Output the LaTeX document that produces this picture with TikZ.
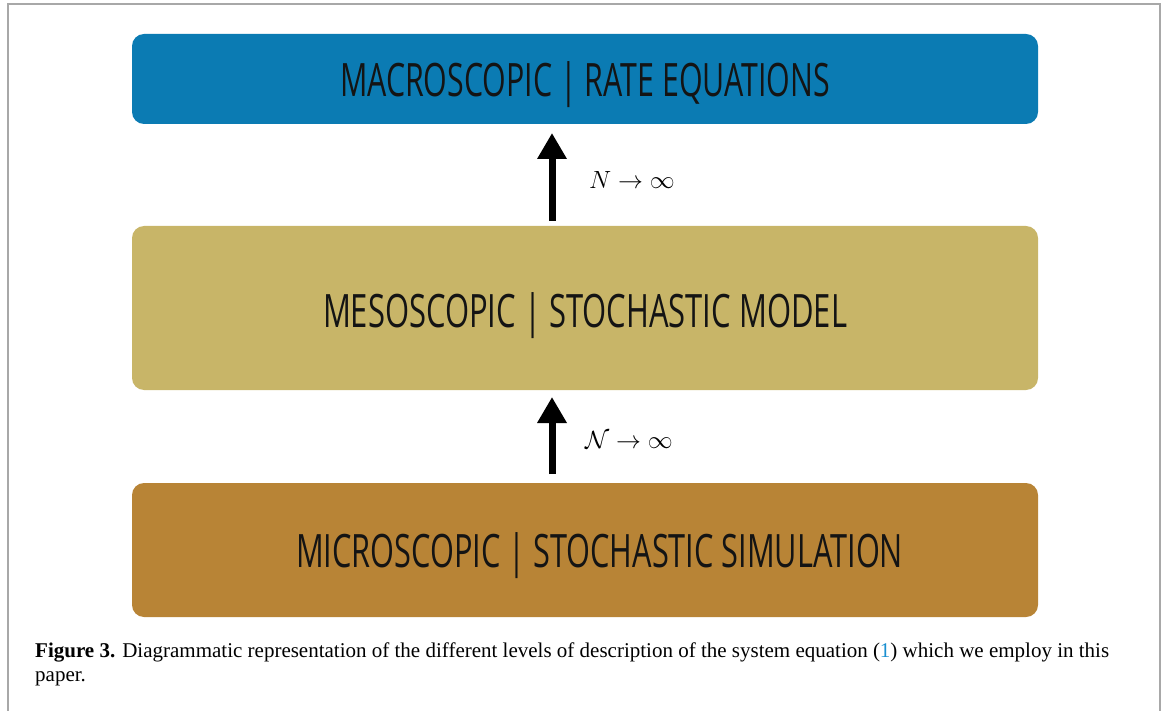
\documentclass[tikz,border=0pt]{standalone}
\usepackage{fontspec}
\usepackage{graphicx}
\setmainfont{Liberation Serif}
\newfontfamily\boxfont{Open Sans}
\usetikzlibrary{arrows.meta}
\definecolor{macroblue}{HTML}{0B7BB3}
\definecolor{mesokhaki}{HTML}{C8B568}
\definecolor{microbrown}{HTML}{B88436}
\definecolor{framegray}{HTML}{A8A8A8}
\definecolor{reflink}{HTML}{1A8FD0}
\definecolor{boxtext}{HTML}{141414}
\begin{document}
\begin{tikzpicture}[x=1pt,y=-1pt,
  level/.style={rounded corners=12pt, inner sep=0pt},
  boxlabel/.style={text=boxtext, font=\boxfont\fontsize{46}{50}\selectfont, inner sep=0pt, anchor=base},
  uparrow/.style={line width=7pt, -{Triangle[width=28pt,length=26pt]}},
  limlabel/.style={font=\fontsize{24}{28}\selectfont, anchor=west, inner sep=0pt}]
\useasboundingbox (0,0) rectangle (1167,711);
% frame
\draw[framegray, line width=1.5pt] (8,711) -- (8,4) -- (1160,4) -- (1160,711);
% boxes
\fill[macroblue, level] (132,34) rectangle (1038,124);
\fill[mesokhaki, level] (132,226) rectangle (1038,390);
\fill[microbrown, level] (132,483) rectangle (1038,617);
\coordinate (macro) at (585,97);
\coordinate (meso) at (585,327);
\coordinate (micro) at (599.5,567);
\node[boxlabel] (macrotext) at (macro) {\resizebox{490pt}{\height}{MACROSCOPIC | RATE EQUATIONS}};
\node[boxlabel] (mesotext) at (meso) {\resizebox{524pt}{\height}{MESOSCOPIC | STOCHASTIC MODEL}};
\node[boxlabel] (microtext) at (micro) {\resizebox{607pt}{\height}{MICROSCOPIC | STOCHASTIC SIMULATION}};
% arrows
\coordinate (a1s) at (552,221);
\coordinate (a1e) at (552,133);
\coordinate (a2s) at (552,474);
\coordinate (a2e) at (552,397);
\draw[uparrow] (a1s) -- (a1e);
\draw[uparrow] (a2s) -- (a2e);
\node[limlabel] (lim1) at (589,180) {$N \to \infty$};
\node[limlabel] (lim2) at (585,440) {$\mathcal{N} \to \infty$};
% caption
\node[anchor=base west, inner sep=0pt, align=left, font=\fontsize{21}{24}\selectfont] (cap) at (35,681)
 {\textbf{Figure 3.} Diagrammatic representation of the different levels of description of the system equation ({\color{reflink}1}) which we employ in this\\ paper.};
\end{tikzpicture}
\end{document}
